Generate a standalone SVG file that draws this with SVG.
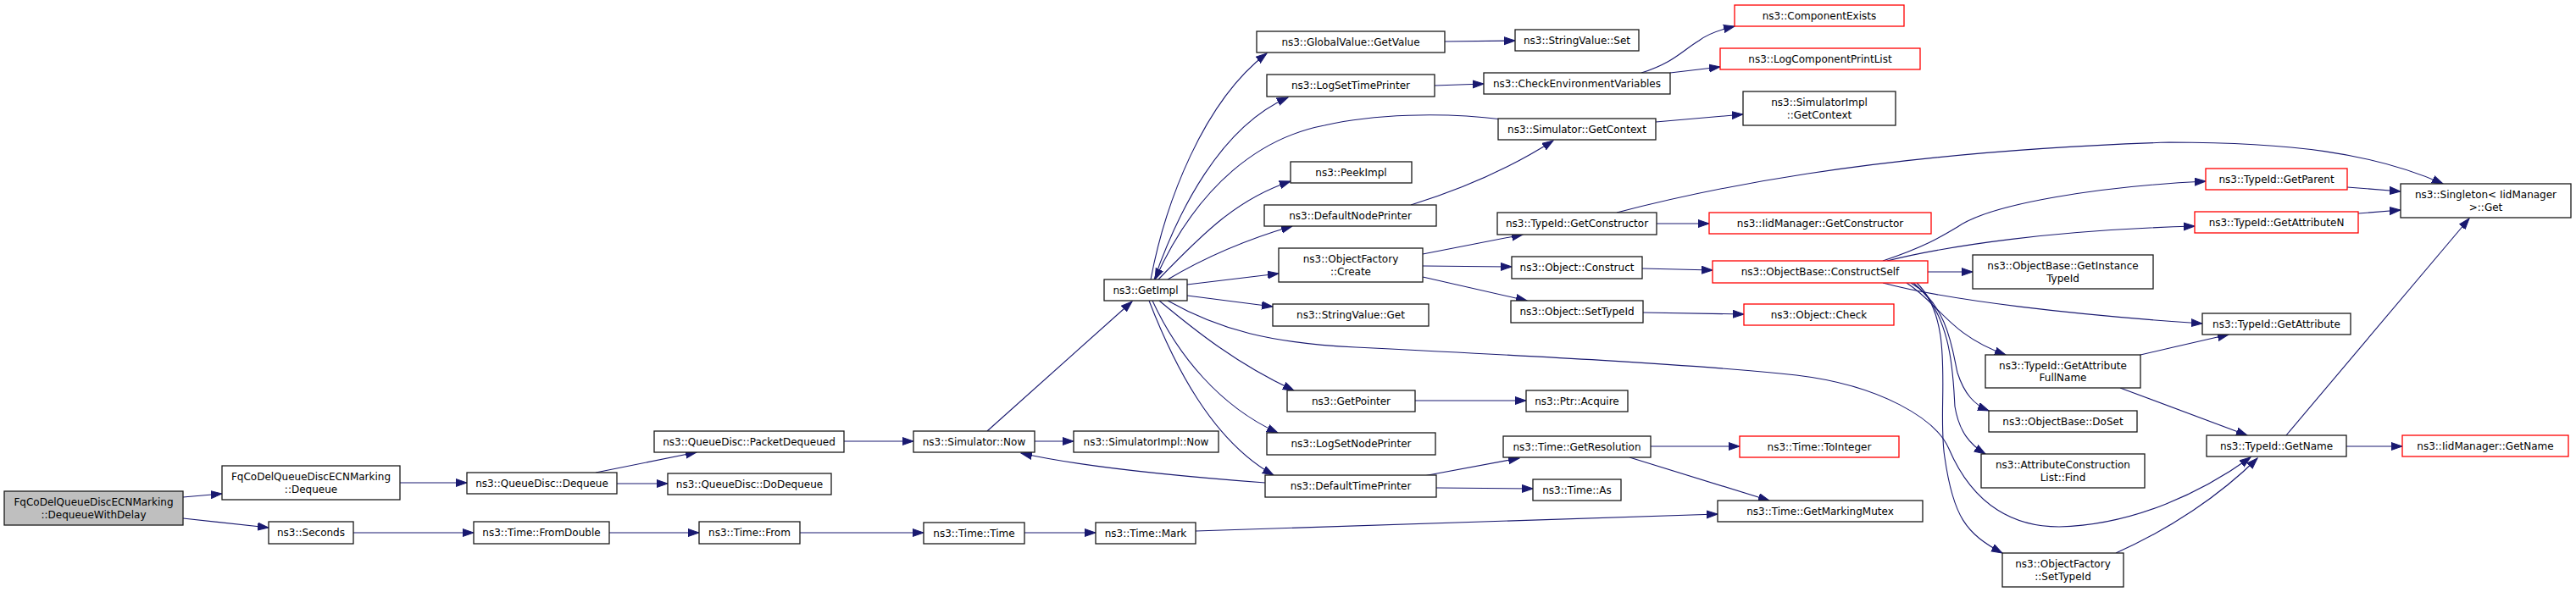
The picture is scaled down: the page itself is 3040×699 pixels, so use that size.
<svg xmlns="http://www.w3.org/2000/svg" width="3040" height="699" viewBox="0 0 3040 699">
<style>
.n rect{fill:#fff;stroke:#1a1a1a;stroke-width:1.3}
.r rect{stroke:#f00}
.g rect{fill:#bfbfbf}
text{font-family:"DejaVu Sans",sans-serif;font-size:12px;text-anchor:middle;fill:#000}
.e path{fill:none;stroke:#191970;stroke-width:1.1;marker-end:url(#a)}
</style>
<defs>
<marker id="a" markerUnits="userSpaceOnUse" markerWidth="14" markerHeight="11" refX="13" refY="5" orient="auto">
<path d="M0,0.5 L13,5 L0,9.5 z" fill="#191970" stroke="#191970" stroke-width="1"/>
</marker>
</defs>
<rect width="3040" height="699" fill="#fff"/>
<g class="e" id="edges">
<path d="M216,587 L262,583"/>
<path d="M216,612 L317,623"/>
<path d="M472,570 L551,570"/>
<path d="M417,629 L559,629"/>
<path d="M703,558 L822,534"/>
<path d="M728,571 L788,571"/>
<path d="M719,629 L825,629"/>
<path d="M996,521 L1078,521"/>
<path d="M944,629 L1090,629"/>
<path d="M1165,509 L1336,356"/>
<path d="M1221,521 L1267,521"/>
<path d="M1209,629 L1293,629"/>
<path d="M1411,627 L2027,607"/>
<path d="M1493,570 C1400,563 1280,552 1205,535"/>
<path d="M1358,330 C1375,240 1420,120 1495,63"/>
<path d="M1362,330 C1390,250 1440,150 1520,115"/>
<path d="M1773,141 C1700,132 1620,135 1563,148 C1490,162 1415,215 1363,330"/>
<path d="M1367,330 C1420,275 1460,235 1523,214"/>
<path d="M1378,330 C1420,305 1470,283 1525,267"/>
<path d="M1401,336 L1509,323"/>
<path d="M1401,349 L1502,362"/>
<path d="M1378,355 C1440,390 1500,405 1600,410 C1800,420 2000,430 2120,443 C2220,455 2285,495 2300,530 C2330,600 2380,622 2430,622 C2520,620 2600,580 2656,540"/>
<path d="M1368,355 C1410,390 1460,430 1527,461"/>
<path d="M1360,355 C1390,420 1440,480 1508,511"/>
<path d="M1356,355 C1385,430 1430,520 1503,561"/>
<path d="M1665,242 C1720,225 1780,200 1833,166"/>
<path d="M1954,144 L2057,135"/>
<path d="M1705,49 L1788,48"/>
<path d="M1693,101 L1751,99"/>
<path d="M1937,86 C1975,74 1985,60 2005,48 C2015,40 2030,35 2047,31"/>
<path d="M1971,86 L2030,79"/>
<path d="M1908,251 C2000,227 2200,180 2560,168 C2700,168 2800,180 2883,217"/>
<path d="M1955,264 L2017,264"/>
<path d="M1679,300 L1797,277"/>
<path d="M1679,314 L1784,315"/>
<path d="M1679,327 L1802,355"/>
<path d="M1938,317 L2021,319"/>
<path d="M1939,369 L2058,371"/>
<path d="M2275,321 L2328,321"/>
<path d="M2222,308 C2270,292 2290,280 2310,268 C2350,240 2480,220 2603,214"/>
<path d="M2227,308 C2300,290 2420,272 2590,267"/>
<path d="M2222,334 C2300,355 2450,372 2599,382"/>
<path d="M2250,334 C2290,360 2300,395 2367,419"/>
<path d="M2255,334 C2300,360 2305,420 2310,440 C2318,465 2330,478 2347,485"/>
<path d="M2258,334 C2305,370 2305,450 2307,480 C2312,510 2325,525 2343,536"/>
<path d="M2262,334 C2310,380 2285,480 2295,540 C2305,610 2320,630 2363,653"/>
<path d="M2497,653 C2560,625 2620,585 2664,541"/>
<path d="M2526,419 C2560,411 2600,402 2630,395"/>
<path d="M2502,458 L2652,514"/>
<path d="M2698,514 L2914,258"/>
<path d="M2770,221 L2833,226"/>
<path d="M2783,252 L2833,248"/>
<path d="M2769,527 L2835,527"/>
<path d="M1948,527 L2053,527"/>
<path d="M1923,540 L2088,591"/>
<path d="M1680,562 L1793,541"/>
<path d="M1695,576 L1809,577"/>
<path d="M1670,473 L1801,473"/>
</g>
<g class="n g" id="root"><rect x="5" y="580" width="211" height="40"/><text x="110.5" y="597">FqCoDelQueueDiscECNMarking</text><text x="110.5" y="611.5">::DequeueWithDelay</text></g>
<g class="n" id="fqdeq"><rect x="262" y="550" width="210" height="40"/><text x="367" y="567">FqCoDelQueueDiscECNMarking</text><text x="367" y="581.5">::Dequeue</text></g>
<g class="n" id="seconds"><rect x="317" y="616" width="100" height="26"/><text x="367" y="633.3">ns3::Seconds</text></g>
<g class="n" id="qddeq"><rect x="551" y="558" width="177" height="25"/><text x="639.5" y="574.8">ns3::QueueDisc::Dequeue</text></g>
<g class="n" id="pktdeq"><rect x="772" y="509" width="224" height="25"/><text x="884" y="525.8">ns3::QueueDisc::PacketDequeued</text></g>
<g class="n" id="dodeq"><rect x="788" y="559" width="193" height="25"/><text x="884.5" y="575.8">ns3::QueueDisc::DoDequeue</text></g>
<g class="n" id="fromdouble"><rect x="559" y="616" width="160" height="26"/><text x="639" y="633.3">ns3::Time::FromDouble</text></g>
<g class="n" id="from"><rect x="825" y="616" width="119" height="26"/><text x="884.5" y="633.3">ns3::Time::From</text></g>
<g class="n" id="simnow"><rect x="1078" y="509" width="143" height="25"/><text x="1149.5" y="525.8">ns3::Simulator::Now</text></g>
<g class="n" id="simimplnow"><rect x="1267" y="509" width="171" height="25"/><text x="1352.5" y="525.8">ns3::SimulatorImpl::Now</text></g>
<g class="n" id="timetime"><rect x="1090" y="617" width="119" height="25"/><text x="1149.5" y="633.8">ns3::Time::Time</text></g>
<g class="n" id="mark"><rect x="1293" y="617" width="118" height="25"/><text x="1352" y="633.8">ns3::Time::Mark</text></g>
<g class="n" id="getimpl"><rect x="1303" y="330" width="98" height="25"/><text x="1352" y="346.8">ns3::GetImpl</text></g>
<g class="n" id="gvget"><rect x="1483" y="37" width="222" height="25"/><text x="1594" y="53.8">ns3::GlobalValue::GetValue</text></g>
<g class="n" id="logsettp"><rect x="1495" y="88" width="198" height="26"/><text x="1594" y="105.3">ns3::LogSetTimePrinter</text></g>
<g class="n" id="peekimpl"><rect x="1523" y="191" width="143" height="25"/><text x="1594.5" y="207.8">ns3::PeekImpl</text></g>
<g class="n" id="defnode"><rect x="1492" y="242" width="203" height="25"/><text x="1593.5" y="258.8">ns3::DefaultNodePrinter</text></g>
<g class="n" id="ofcreate"><rect x="1509" y="293" width="170" height="40"/><text x="1594" y="310">ns3::ObjectFactory</text><text x="1594" y="324.5">::Create</text></g>
<g class="n" id="svget"><rect x="1502" y="359" width="184" height="26"/><text x="1594" y="376.3">ns3::StringValue::Get</text></g>
<g class="n" id="getpointer"><rect x="1519" y="461" width="151" height="25"/><text x="1594.5" y="477.8">ns3::GetPointer</text></g>
<g class="n" id="logsetnp"><rect x="1495" y="511" width="199" height="26"/><text x="1594.5" y="528.3">ns3::LogSetNodePrinter</text></g>
<g class="n" id="deftime"><rect x="1493" y="561" width="202" height="26"/><text x="1594" y="578.3">ns3::DefaultTimePrinter</text></g>
<g class="n" id="svset"><rect x="1788" y="35" width="146" height="25"/><text x="1861" y="51.8">ns3::StringValue::Set</text></g>
<g class="n" id="checkenv"><rect x="1751" y="86" width="220" height="25"/><text x="1861" y="102.8">ns3::CheckEnvironmentVariables</text></g>
<g class="n" id="simgetctx"><rect x="1768" y="140" width="186" height="25"/><text x="1861" y="156.8">ns3::Simulator::GetContext</text></g>
<g class="n" id="tidgetctor"><rect x="1767" y="251" width="188" height="26"/><text x="1861" y="268.3">ns3::TypeId::GetConstructor</text></g>
<g class="n" id="objconstruct"><rect x="1784" y="303" width="154" height="26"/><text x="1861" y="320.3">ns3::Object::Construct</text></g>
<g class="n" id="objsettid"><rect x="1783" y="355" width="156" height="26"/><text x="1861" y="372.3">ns3::Object::SetTypeId</text></g>
<g class="n" id="acquire"><rect x="1801" y="461" width="120" height="25"/><text x="1861" y="477.8">ns3::Ptr::Acquire</text></g>
<g class="n" id="getres"><rect x="1774" y="515" width="174" height="25"/><text x="1861" y="531.8">ns3::Time::GetResolution</text></g>
<g class="n" id="as"><rect x="1809" y="566" width="104" height="25"/><text x="1861" y="582.8">ns3::Time::As</text></g>
<g class="n r" id="compexists"><rect x="2047" y="6" width="200" height="25"/><text x="2147" y="22.8">ns3::ComponentExists</text></g>
<g class="n r" id="logcpl"><rect x="2030" y="57" width="236" height="25"/><text x="2148" y="73.8">ns3::LogComponentPrintList</text></g>
<g class="n" id="simimplctx"><rect x="2057" y="108" width="180" height="40"/><text x="2147" y="125">ns3::SimulatorImpl</text><text x="2147" y="139.5">::GetContext</text></g>
<g class="n r" id="iidgetctor"><rect x="2017" y="251" width="262" height="25"/><text x="2148" y="267.8">ns3::IidManager::GetConstructor</text></g>
<g class="n r" id="constructself"><rect x="2021" y="308" width="254" height="26"/><text x="2148" y="325.3">ns3::ObjectBase::ConstructSelf</text></g>
<g class="n r" id="check"><rect x="2058" y="359" width="177" height="25"/><text x="2146.5" y="375.8">ns3::Object::Check</text></g>
<g class="n r" id="toint"><rect x="2053" y="515" width="188" height="25"/><text x="2147" y="531.8">ns3::Time::ToInteger</text></g>
<g class="n" id="mutex"><rect x="2027" y="591" width="242" height="25"/><text x="2148" y="607.8">ns3::Time::GetMarkingMutex</text></g>
<g class="n" id="getinst"><rect x="2328" y="301" width="213" height="40"/><text x="2434.5" y="318">ns3::ObjectBase::GetInstance</text><text x="2434.5" y="332.5">TypeId</text></g>
<g class="n" id="gafn"><rect x="2343" y="419" width="183" height="39"/><text x="2434.5" y="435.5">ns3::TypeId::GetAttribute</text><text x="2434.5" y="450">FullName</text></g>
<g class="n" id="doset"><rect x="2347" y="485" width="175" height="25"/><text x="2434.5" y="501.8">ns3::ObjectBase::DoSet</text></g>
<g class="n" id="acfind"><rect x="2338" y="536" width="193" height="40"/><text x="2434.5" y="553">ns3::AttributeConstruction</text><text x="2434.5" y="567.5">List::Find</text></g>
<g class="n" id="ofsettid"><rect x="2363" y="653" width="143" height="40"/><text x="2434.5" y="670">ns3::ObjectFactory</text><text x="2434.5" y="684.5">::SetTypeId</text></g>
<g class="n r" id="getparent"><rect x="2603" y="199" width="167" height="25"/><text x="2686.5" y="215.8">ns3::TypeId::GetParent</text></g>
<g class="n r" id="getattrn"><rect x="2590" y="250" width="193" height="25"/><text x="2686.5" y="266.8">ns3::TypeId::GetAttributeN</text></g>
<g class="n" id="getattr"><rect x="2599" y="370" width="175" height="25"/><text x="2686.5" y="386.8">ns3::TypeId::GetAttribute</text></g>
<g class="n" id="singleton"><rect x="2833" y="217" width="201" height="40"/><text x="2933.5" y="234">ns3::Singleton&lt; IidManager</text><text x="2933.5" y="248.5">&gt;::Get</text></g>
<g class="n" id="getname"><rect x="2604" y="514" width="165" height="25"/><text x="2686.5" y="530.8">ns3::TypeId::GetName</text></g>
<g class="n r" id="iidgetname"><rect x="2835" y="514" width="196" height="25"/><text x="2933" y="530.8">ns3::IidManager::GetName</text></g>
</svg>
